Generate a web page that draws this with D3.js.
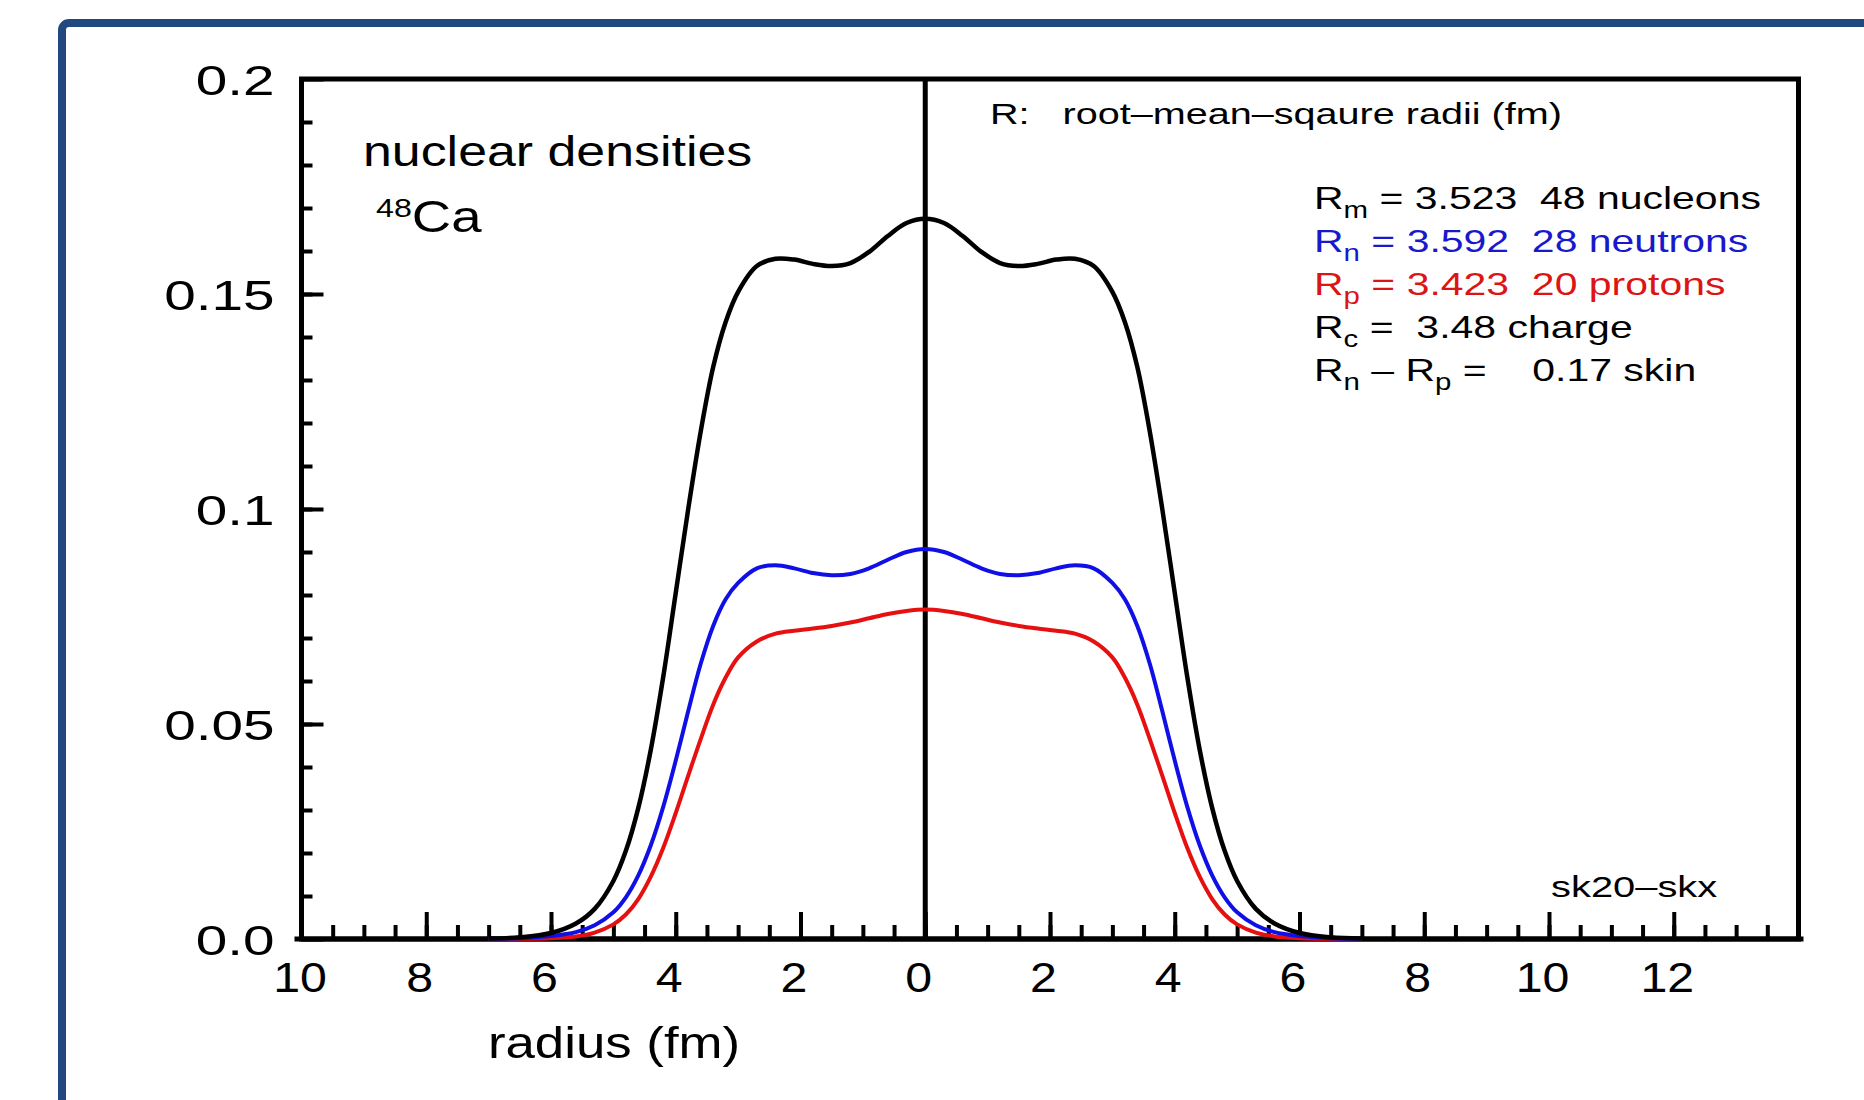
<!DOCTYPE html>
<html>
<head>
<meta charset="utf-8">
<script src="https://cdn.jsdelivr.net/npm/d3@7"></script>
<style>
  body { margin: 0; background: #fff; }
  svg text { font-family: "Liberation Sans", Arial, Helvetica, sans-serif; white-space: pre; }
</style>
</head>
<body>
<div id="chart"></div>
<script>
// radius (fm) and densities (same profile mirrored left/right)
const radius  = [0, 0.3, 0.6, 0.9, 1.2, 1.5, 1.8, 2.1, 2.4, 2.7, 3.0, 3.2, 3.4, 3.6, 3.8, 4.0, 4.2, 4.4, 4.6, 4.8, 5.0, 5.3, 5.6, 6.0, 6.5, 7.0];
const total   = [0.1675, 0.1665, 0.1635, 0.1598, 0.1572, 0.1565, 0.1570, 0.1580, 0.1582, 0.1565, 0.1505, 0.1435, 0.1330, 0.1180, 0.1000, 0.0805, 0.0610, 0.0440, 0.0305, 0.0205, 0.0135, 0.0070, 0.0036, 0.0014, 0.0004, 0.0001];
const neutron = [0.0907, 0.0900, 0.0882, 0.0862, 0.0849, 0.0846, 0.0851, 0.0862, 0.0869, 0.0862, 0.0828, 0.0790, 0.0728, 0.0640, 0.0530, 0.0415, 0.0308, 0.0218, 0.0148, 0.0097, 0.0062, 0.0032, 0.0016, 0.0007, 0.0002, 0.00005];
const proton  = [0.0766, 0.0763, 0.0756, 0.0746, 0.0736, 0.0728, 0.0722, 0.0717, 0.0710, 0.0692, 0.0655, 0.0608, 0.0545, 0.0465, 0.0380, 0.0293, 0.0212, 0.0145, 0.0093, 0.0057, 0.0034, 0.0015, 0.0006, 0.0002, 0.00005, 0];

const xMajor = [-10, -8, -6, -4, -2, 0, 2, 4, 6, 8, 10, 12];
const yMajor = [0, 0.05, 0.1, 0.15, 0.2];
const yLabels = ["0.0", "0.05", "0.1", "0.15", "0.2"];

const legendLines = [
    { color: "#000", parts: [["R"], ["m", 1], [" = 3.523  48 nucleons"]] },
    { color: "#1818cc", parts: [["R"], ["n", 1], [" = 3.592  28 neutrons"]] },
    { color: "#dc1414", parts: [["R"], ["p", 1], [" = 3.423  20 protons"]] },
    { color: "#000", parts: [["R"], ["c", 1], [" =  3.48 charge"]] },
    { color: "#000", parts: [["R"], ["n", 1], [" – R"], ["p", 1], [" =    0.17 skin"]] }
];

const width = 1864, height = 1100;
const marginLeft = 301.5, marginRight = 1798.5, marginTop = 79, marginBottom = 939;

const x = d3.scaleLinear().domain([-10, 14]).range([marginLeft, marginRight]);
const y = d3.scaleLinear().domain([0, 0.2]).range([marginBottom, marginTop]);

const svg = d3.select("#chart").append("svg")
    .attr("width", width)
    .attr("height", height);

// blue frame round the slide (runs off right and bottom)
svg.append("rect")
    .attr("x", 62).attr("y", 23)
    .attr("width", 2000).attr("height", 1200)
    .attr("rx", 7)
    .attr("fill", "none")
    .attr("stroke", "#22497f")
    .attr("stroke-width", 8);

// x minor ticks
svg.append("g")
    .attr("transform", `translate(0,${marginBottom})`)
    .call(d3.axisBottom(x).tickValues(d3.range(-9.5, 14, 0.5)).tickSize(-14).tickFormat(""))
    .call(g => g.select(".domain").remove())
    .call(g => g.selectAll("line").attr("stroke-width", 4));

// x major ticks + labels
svg.append("g")
    .attr("transform", `translate(0,${marginBottom})`)
    .call(d3.axisBottom(x).tickValues(xMajor).tickSize(-27).tickFormat(d => Math.abs(d)))
    .call(g => g.select(".domain").remove())
    .call(g => g.selectAll("line").attr("stroke-width", 4))
    .call(g => g.selectAll(".tick text")
        .attr("y", 0).attr("dy", 0)
        .attr("font-size", 42)
        .attr("fill", "#000")
        .attr("transform", d => `translate(${d === -10 ? -2 : -7},53) scale(1.15,1)`));

// y minor ticks
svg.append("g")
    .attr("transform", `translate(${marginLeft},0)`)
    .call(d3.axisLeft(y).tickValues(d3.range(0.01, 0.2, 0.01)).tickSize(-11).tickFormat(""))
    .call(g => g.select(".domain").remove())
    .call(g => g.selectAll("line").attr("stroke-width", 4));

// y major ticks + labels
svg.append("g")
    .attr("transform", `translate(${marginLeft},0)`)
    .call(d3.axisLeft(y).tickValues(yMajor).tickSize(-22).tickFormat((d, i) => yLabels[i]))
    .call(g => g.select(".domain").remove())
    .call(g => g.selectAll("line").attr("stroke-width", 4))
    .call(g => g.selectAll(".tick text")
        .attr("x", 0).attr("dy", "0.36em")
        .attr("font-size", 42)
        .attr("fill", "#000")
        .attr("transform", "translate(-27,0) scale(1.35,1)"));

// plot frame
svg.append("rect")
    .attr("x", marginLeft).attr("y", marginTop)
    .attr("width", marginRight - marginLeft).attr("height", marginBottom - marginTop)
    .attr("fill", "none").attr("stroke", "#000").attr("stroke-width", 5);
svg.append("line")
    .attr("x1", marginLeft - 7).attr("x2", marginRight + 5)
    .attr("y1", marginBottom).attr("y2", marginBottom)
    .attr("stroke", "#000").attr("stroke-width", 5);
// centre line at r = 0
svg.append("line")
    .attr("x1", x(0)).attr("x2", x(0))
    .attr("y1", marginTop).attr("y2", marginBottom)
    .attr("stroke", "#000").attr("stroke-width", 5);

// curves, mirrored about r = 0
function mirrored(vals) {
    const left = radius.map((r, i) => [-r, vals[i]]).reverse();
    const right = radius.slice(1).map((r, i) => [r, vals[i + 1]]);
    return left.concat(right);
}
const line = d3.line()
    .x(d => x(d[0]))
    .y(d => y(d[1]))
    .curve(d3.curveCatmullRom.alpha(0.5));

const series = [
    { vals: proton, color: "#e61010", w: 4 },
    { vals: neutron, color: "#1010e6", w: 4 },
    { vals: total, color: "#000", w: 4.5 }
];
svg.append("g")
    .selectAll("path")
    .data(series)
    .join("path")
    .attr("d", d => line(mirrored(d.vals)))
    .attr("fill", "none")
    .attr("stroke", d => d.color)
    .attr("stroke-width", d => d.w)
    .attr("stroke-linejoin", "round");

// text helper: horizontally stretched like the original
function label(tx, ty, size, sx, color) {
    return svg.append("text")
        .attr("transform", `translate(${tx},${ty}) scale(${sx},1)`)
        .attr("font-size", size)
        .attr("fill", color || "#000");
}

label(363, 166, 42, 1.235).text("nuclear densities");

const ca = label(376, 232, 44, 1.24);
ca.append("tspan").attr("font-size", 26).attr("dy", -15).text("48");
ca.append("tspan").attr("font-size", 44).attr("dy", 15).text("Ca");

label(990, 124, 30, 1.32).text("R:   root–mean–sqaure radii (fm)");

legendLines.forEach((ln, i) => {
    const t = label(1314, 209 + i * 43, 32, 1.28, ln.color);
    let shifted = false;
    ln.parts.forEach(p => {
        const sub = p[1] === 1;
        const ts = t.append("tspan").text(p[0]);
        if (sub && !shifted) { ts.attr("font-size", 23).attr("dy", 9); shifted = true; }
        else if (!sub && shifted) { ts.attr("dy", -9); shifted = false; }
    });
});

label(1551, 897, 30, 1.33).text("sk20–skx");

label(614, 1058, 44, 1.2).attr("text-anchor", "middle").text("radius (fm)");
</script>
</body>
</html>
